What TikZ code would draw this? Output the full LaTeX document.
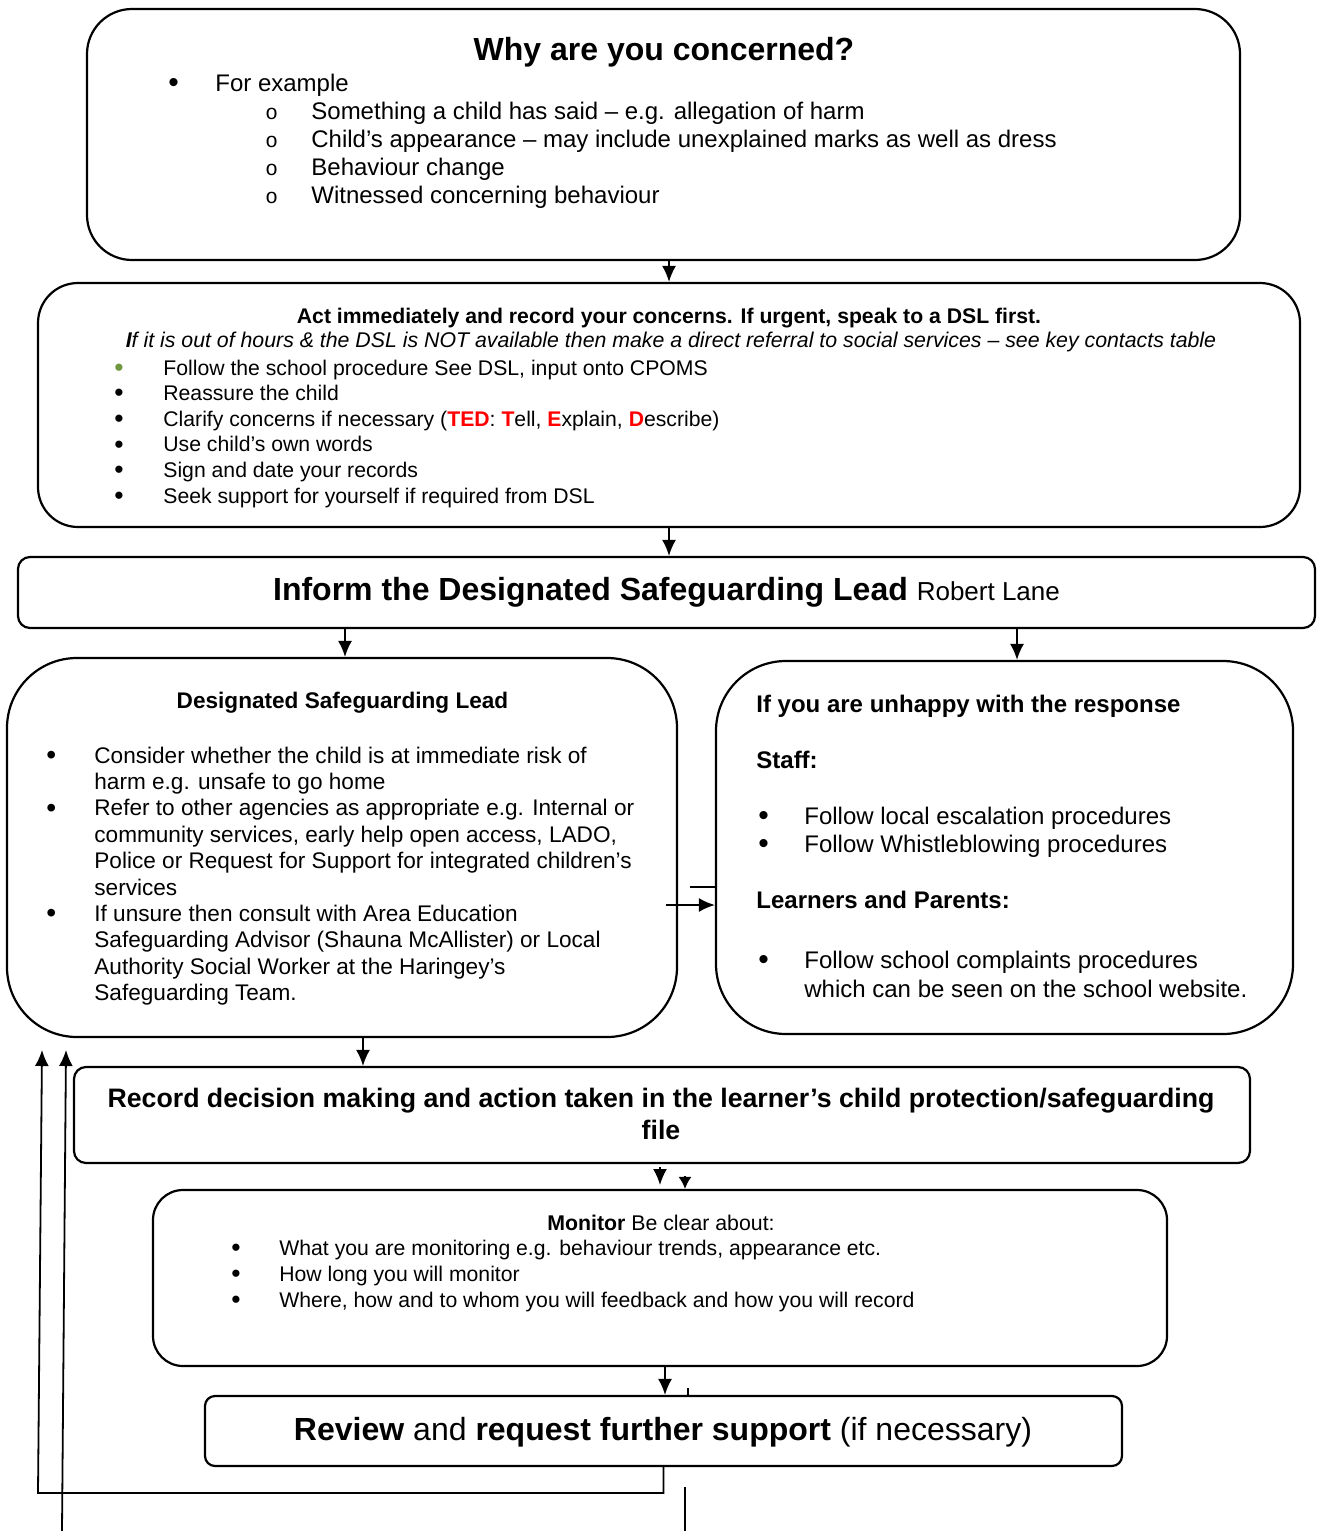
\documentclass[tikz,border=0pt]{standalone}
\usepackage{fontspec}
\usepackage{graphicx}
\setmainfont{Liberation Sans}
\newfontfamily\circfont{Liberation Mono}
\usetikzlibrary{arrows.meta,positioning}
\definecolor{tedred}{RGB}{255,0,0}
\definecolor{bulletgreen}{RGB}{112,152,64}
\newcommand{\redbold}[1]{\textcolor{tedred}{\textbf{#1}}}
\newcommand{\bul}{\raisebox{-0.06em}{\scalebox{1.25}{•}}}
\newcommand{\circl}{\hspace{1pt}{\circfont\fontsize{10.5}{12}\selectfont o}}
\begin{document}
\begin{tikzpicture}[x=0.5pt,y=-0.5pt,
  box/.style={draw, line width=1.1pt, inner sep=0pt},
  arr/.style={-{Latex[length=8pt,width=7pt]}, line width=0.9pt},
  smallarr/.style={-{Latex[length=6pt,width=6.5pt]}, line width=0.9pt},
  txt/.style={inner sep=0pt, anchor=base},
  list/.style={inner sep=0pt, anchor=base west}]
\useasboundingbox (0,0) rectangle (1320,1531);

% boxes
\node[box, rounded corners=22.5pt, minimum width=576.5pt, minimum height=125.5pt] (concern) at (663.5,134.5) {};
\node[box, rounded corners=20pt, minimum width=631pt, minimum height=122pt] (act) at (669,405) {};
\node[box, rounded corners=6pt, minimum width=648.5pt, minimum height=35.5pt] (inform) at (666.5,592.5) {};
\node[box, rounded corners=35pt, minimum width=335pt, minimum height=189.5pt] (dsl) at (342,847.5) {};
\node[box, rounded corners=35pt, minimum width=288.5pt, minimum height=186.5pt] (unhappy) at (1004.5,847.5) {};
\node[box, rounded corners=6pt, minimum width=588pt, minimum height=48pt] (record) at (662,1115) {};
\node[box, rounded corners=15pt, minimum width=507pt, minimum height=88pt] (monitor) at (660,1278) {};
\node[box, rounded corners=5pt, minimum width=458.5pt, minimum height=35pt] (review) at (663.5,1431) {};

% why are you concerned
\node[txt, font=\bfseries\fontsize{16}{18}\selectfont] (whyhead) at (664,60) {Why are you concerned?};
\node[list, font=\fontsize{12}{14}\selectfont] (whylist) at (168,91) {%
\begin{tabular}[t]{@{}p{23.5pt}@{}p{24pt}@{}p{24pt}@{}l@{}}
\bul & \multicolumn{3}{@{}l@{}}{For example}\\
 & & \circl & Something a child has said – e.g. allegation of harm\\
 & & \circl & Child’s appearance – may include unexplained marks as well as dress\\
 & & \circl & Behaviour change\\
 & & \circl & Witnessed concerning behaviour
\end{tabular}};

% act immediately
\node[txt, font=\bfseries\fontsize{10.6}{12}\selectfont] (acthead) at (669,323) {Act immediately and record your concerns. If urgent, speak to a DSL first.};
\node[txt, font=\itshape\fontsize{10.65}{12}\selectfont] (actnote) at (671,347) {\textbf{I}f it is out of hours \& the DSL is NOT available then make a direct referral to social services – see key contacts table};
\node[list, font=\fontsize{10.6}{12.8}\selectfont] (actlist) at (114,375) {%
\begin{tabular}[t]{@{}p{24.5pt}@{}l@{}}
\textcolor{bulletgreen}{\bul} & Follow the school procedure See DSL, input onto CPOMS\\
\bul & Reassure the child\\
\bul & Clarify concerns if necessary (\redbold{TED}: \redbold{T}ell, \redbold{E}xplain, \redbold{D}escribe)\\
\bul & Use child’s own words\\
\bul & Sign and date your records\\
\bul & Seek support for yourself if required from DSL
\end{tabular}};

% inform
\node[txt, font=\fontsize{16}{19}\selectfont] (informtext) at (666.5,600) {\textbf{Inform the Designated Safeguarding Lead} {\fontsize{13}{15}\selectfont Robert Lane}};

% designated safeguarding lead
\node[txt, font=\bfseries\fontsize{11.3}{13}\selectfont] (dslhead) at (342.5,708) {Designated Safeguarding Lead};
\node[list, font=\fontsize{11.3}{13.2}\selectfont] (dsllist) at (46,763) {%
\begin{tabular}[t]{@{}p{24pt}@{}l@{}}
\bul & Consider whether the child is at immediate risk of\\
 & harm e.g. unsafe to go home\\
\bul & Refer to other agencies as appropriate e.g. Internal or\\
 & community services, early help open access, LADO,\\
 & Police or Request for Support for integrated children’s\\
 & services\\
\bul & If unsure then consult with Area Education\\
 & Safeguarding Advisor (Shauna McAllister) or Local\\
 & Authority Social Worker at the Haringey’s\\
 & Safeguarding Team.
\end{tabular}};

% unhappy with the response
\node[list, font=\fontsize{12}{14}\selectfont] (unhappylist) at (756,712) {%
\begin{tabular}[t]{@{}p{24pt}@{}l@{}}
\multicolumn{2}{@{}l@{}}{\textbf{If you are unhappy with the response}}\\[14pt]
\multicolumn{2}{@{}l@{}}{\textbf{Staff:}}\\[14pt]
\hspace{1pt}\bul & Follow local escalation procedures\\
\hspace{1pt}\bul & Follow Whistleblowing procedures\\[14pt]
\multicolumn{2}{@{}l@{}}{\textbf{Learners and Parents:}}\\[16pt]
\hspace{1pt}\bul & Follow school complaints procedures\\[0.5pt]
 & which can be seen on the school website.
\end{tabular}};

% record
\node[list, anchor=base, font=\bfseries\fontsize{13.35}{16}\selectfont] (recordtext) at (661,1107) {%
\begin{tabular}[t]{@{}c@{}}
Record decision making and action taken in the learner’s child protection/safeguarding\\
file
\end{tabular}};

% monitor
\node[txt, font=\fontsize{10.65}{12}\selectfont] (monitorhead) at (661,1230) {\textbf{Monitor} Be clear about:};
\node[list, font=\fontsize{10.6}{13}\selectfont] (monitorlist) at (231,1255) {%
\begin{tabular}[t]{@{}p{24pt}@{}l@{}}
\bul & What you are monitoring e.g. behaviour trends, appearance etc.\\
\bul & How long you will monitor\\
\bul & Where, how and to whom you will feedback and how you will record
\end{tabular}};

% review
\node[txt, font=\fontsize{16}{19}\selectfont] (reviewtext) at (663,1440) {\textbf{Review} and \textbf{request further support} (if necessary)};

% connectors
\coordinate (dslin) at ([xshift=1.5pt]dsl.north);
\coordinate (uin) at ([xshift=6.25pt]unhappy.north);
\coordinate (dslout) at (666,905);
\coordinate (stray) at (690,887);
\coordinate (dslrec) at (363,1000);
\coordinate (moda) at (660,1167);
\coordinate (modb) at (685,1176);
\coordinate (monrev) at (665,1300);
\coordinate (tick) at (688,1388);
\coordinate (loopa) at (38,1493);
\coordinate (tipa) at (42,1050);
\coordinate (loopb) at (62,1531);
\coordinate (tipb) at (66,1050);
\coordinate (tailtop) at (685,1487);
\coordinate (tailend) at (685,1531);

\draw[arr] (act.north |- concern.south) -- (act.north);
\draw[arr] (act.south) -- (act.south |- inform.north);
\draw[arr] (dslin |- inform.south) -- (dslin);
\draw[arr] (uin |- inform.south) -- (uin);
\draw[arr] (dslout) -- (dslout -| unhappy.west);
\draw[line width=0.9pt] (stray) -- (stray -| unhappy.west);
\draw[arr] (dslrec |- dsl.south) -- (dslrec |- record.north);
\draw[arr] (moda) -- ++(0,18);
\draw[smallarr] (modb) -- (modb |- monitor.north);
\draw[arr] (monrev |- monitor.south) -- (monrev |- review.north);
\draw[line width=0.9pt] (tick) -- (tick |- review.north);
\draw[arr] (review.south) -- (review.south |- loopa) -- (loopa) -- (tipa);
\draw[arr] (loopb) -- (tipb);
\draw[line width=0.9pt] (tailtop) -- (tailend);
\end{tikzpicture}
\end{document}
